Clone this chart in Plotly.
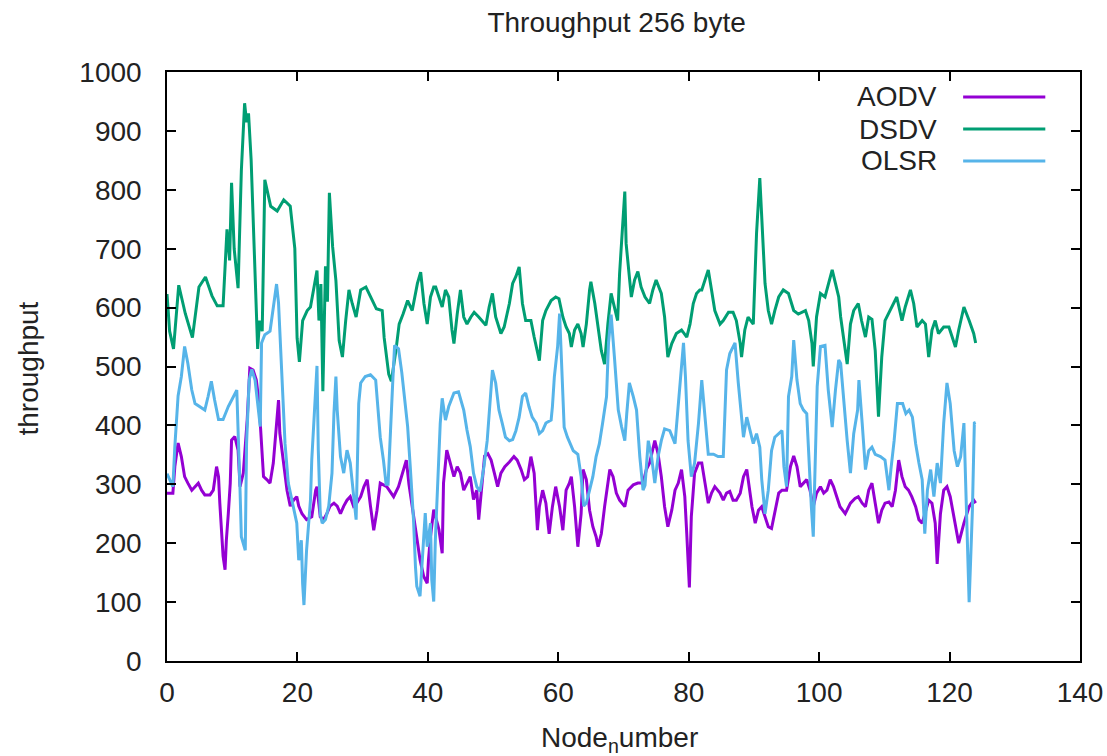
import plotly.graph_objects as go

# ---------------- data ----------------
aodv_x = [0.0, 0.9, 1.2, 1.7, 2.2, 2.7, 3.2, 3.8, 4.3, 4.8, 5.3, 5.8, 6.6, 7.1, 7.6, 7.9, 8.1, 8.4, 8.6, 8.9,
          9.1, 9.4, 9.7, 9.9, 10.4, 10.9, 11.2, 11.7, 12.3, 12.7, 13.2, 13.7, 14.0, 14.3, 14.8, 15.3, 15.8, 16.3, 16.8, 17.1,
          17.3, 17.9, 18.4, 18.9, 19.4, 19.9, 20.2, 20.7, 21.4, 22.2, 22.8, 23.0, 23.5, 24.0, 24.5, 25.0, 25.6, 26.1, 26.6, 27.1,
          27.6, 28.1, 28.6, 29.1, 29.7, 30.2, 30.7, 31.2, 31.7, 32.2, 32.7, 33.7, 34.75, 35.5, 36.3, 36.7, 37.1, 37.6, 37.8, 38.3,
          38.8, 39.35, 39.9, 40.1, 40.4, 40.9, 41.7, 42.2, 42.4, 42.9, 43.45, 44.0, 44.5, 45.0, 45.5, 46.0, 46.5, 47.0, 47.5, 47.8,
          48.2, 48.7, 49.2, 49.7, 50.2, 50.7, 51.2, 51.8, 52.5, 53.2, 53.7, 54.3, 54.8, 55.3, 55.8, 56.3, 56.8, 57.1, 57.6, 58.1,
          58.6, 59.1, 59.6, 60.2, 60.7, 61.2, 61.7, 62.0, 62.5, 63.0, 63.5, 63.8, 64.3, 64.8, 65.3, 65.8, 66.1, 66.6, 67.1, 67.6,
          67.9, 68.4, 68.9, 69.4, 70.2, 70.7, 71.5, 72.2, 73.0, 73.5, 74.0, 74.8, 75.3, 75.8, 76.3, 76.8, 77.4, 77.9, 78.4, 78.9,
          79.4, 79.7, 80.1, 80.4, 80.9, 81.5, 82.0, 82.5, 83.0, 83.5, 84.0, 84.8, 85.3, 85.8, 86.3, 86.8, 87.3, 87.9, 88.4, 88.9,
          89.4, 89.7, 90.2, 90.7, 91.2, 91.7, 92.2, 92.7, 93.2, 93.8, 94.3, 95.0, 95.6, 96.1, 96.6, 97.1, 97.6, 98.1, 98.6, 99.1,
          99.6, 100.2, 100.7, 101.2, 101.7, 102.2, 102.7, 103.2, 104.0, 104.8, 105.5, 106.0, 106.6, 107.1, 107.6, 108.1, 108.6, 109.1, 109.6, 110.1,
          110.7, 111.2, 111.7, 112.2, 112.7, 113.2, 113.7, 114.2, 114.8, 115.3, 115.8, 116.3, 116.8, 117.3, 117.8, 118.1, 118.6, 119.1, 119.6, 120.1,
          120.9, 121.4, 122.2, 123.0, 123.7, 124.0]
aodv_y = [285, 285, 330, 370, 347, 313, 302, 290, 296, 302, 290, 282, 282, 290, 330, 313, 268, 217, 178, 155,
          205, 250, 302, 375, 381, 358, 296, 319, 410, 497, 494, 477, 449, 404, 313, 308, 302, 336, 414, 443,
          387, 330, 290, 263, 273, 279, 263, 250, 240, 245, 290, 296, 245, 240, 250, 263, 268, 263, 250, 263,
          273, 279, 263, 268, 279, 296, 308, 263, 222, 256, 302, 296, 279, 296, 324, 341, 300, 262, 251, 206,
          172, 144, 132, 172, 211, 257, 223, 183, 302, 358, 336, 313, 330, 319, 290, 302, 313, 274, 290, 240,
          290, 348, 352, 341, 319, 296, 319, 330, 338, 347, 341, 325, 308, 313, 347, 319, 222, 262, 290, 268,
          216, 262, 296, 262, 222, 290, 302, 313, 262, 194, 250, 325, 308, 256, 228, 211, 194, 216, 262, 302,
          325, 313, 285, 273, 262, 290, 299, 302, 302, 325, 336, 374, 352, 313, 262, 228, 256, 290, 302, 325,
          279, 216, 125, 245, 319, 336, 336, 302, 268, 285, 296, 285, 273, 285, 288, 273, 273, 285, 313, 325,
          285, 262, 234, 256, 262, 245, 228, 225, 250, 285, 290, 290, 330, 348, 330, 296, 302, 308, 290, 262,
          285, 296, 285, 290, 308, 296, 279, 262, 250, 268, 276, 279, 268, 262, 290, 302, 268, 234, 256, 268,
          270, 262, 290, 341, 313, 296, 290, 279, 262, 240, 234, 256, 273, 268, 234, 165, 250, 290, 296, 279,
          234, 200, 234, 262, 273, 268]

dsdv_x = [0.0, 0.4, 1.0, 1.8, 2.8, 3.9, 4.9, 5.9, 6.9, 7.7, 8.6, 9.2, 9.6, 9.9, 10.3, 10.9, 11.4, 11.9, 12.2, 12.5,
          12.9, 13.4, 13.9, 14.2, 14.6, 15.0, 15.9, 16.9, 17.9, 18.9, 19.6, 19.95, 20.3, 20.8, 21.5, 22.0, 22.5, 23.0, 23.3, 23.6,
          23.9, 24.3, 24.6, 24.9, 25.4, 25.9, 26.4, 26.9, 27.4, 27.9, 28.4, 29.0, 29.7, 30.5, 31.5, 32.1, 33.0, 33.3, 34.0, 34.4,
          35.1, 35.6, 36.2, 36.9, 37.6, 38.4, 38.9, 39.4, 39.9, 40.4, 40.9, 41.2, 41.7, 42.2, 42.7, 43.2, 43.7, 44.0, 44.5, 45.0,
          45.5, 46.0, 46.6, 47.1, 47.8, 48.9, 49.4, 49.9, 50.4, 51.2, 51.7, 52.5, 53.0, 53.5, 54.0, 54.5, 55.0, 55.8, 56.3, 56.8,
          57.1, 57.6, 58.1, 58.9, 59.6, 60.1, 60.7, 61.2, 61.7, 62.0, 62.5, 63.0, 63.5, 63.8, 64.3, 64.8, 65.0, 65.6, 66.1, 66.6,
          67.1, 67.6, 68.1, 68.6, 69.1, 69.4, 69.7, 70.2, 70.4, 70.9, 71.2, 71.7, 72.2, 72.7, 73.3, 74.0, 74.5, 75.0, 75.8, 76.3,
          76.8, 77.4, 78.1, 78.9, 79.7, 80.2, 80.7, 81.2, 81.7, 82.0, 82.5, 83.0, 83.5, 84.0, 84.8, 85.3, 86.1, 86.8, 87.3, 87.9,
          88.1, 88.6, 89.1, 89.9, 90.2, 90.4, 90.9, 91.4, 91.7, 92.2, 92.7, 93.2, 93.8, 94.5, 95.3, 96.1, 96.8, 97.9, 98.4, 98.9,
          99.1, 99.6, 100.2, 100.9, 101.4, 102.0, 102.5, 103.0, 103.3, 103.8, 104.3, 104.8, 105.3, 106.0, 106.5, 107.1, 107.6, 108.1, 108.6, 109.1,
          109.6, 110.1, 110.9, 111.9, 112.7, 113.2, 114.0, 114.5, 115.0, 115.8, 116.3, 116.8, 117.3, 117.8, 118.3, 119.1, 119.9, 120.4, 120.9, 121.4,
          122.2, 123.0, 123.7, 124.0]
dsdv_y = [623, 560, 530, 638, 590, 549, 635, 652, 620, 603, 603, 733, 680, 812, 700, 633, 832, 947, 915, 930,
          851, 700, 530, 578, 560, 817, 772, 764, 783, 772, 700, 548, 508, 578, 595, 601, 630, 663, 578, 640,
          458, 670, 610, 795, 703, 646, 544, 516, 578, 630, 607, 584, 630, 635, 612, 598, 595, 549, 487, 475,
          527, 572, 589, 612, 595, 641, 660, 607, 572, 618, 635, 635, 618, 601, 630, 618, 562, 539, 589, 630,
          584, 572, 584, 592, 584, 570, 601, 624, 584, 556, 567, 607, 641, 653, 669, 607, 578, 578, 550, 527,
          510, 578, 595, 612, 618, 615, 584, 567, 556, 533, 562, 572, 556, 533, 572, 630, 644, 607, 562, 527,
          504, 572, 624, 601, 578, 658, 709, 797, 709, 647, 618, 647, 661, 635, 618, 607, 630, 647, 624, 584,
          516, 539, 556, 562, 550, 572, 607, 624, 630, 630, 647, 664, 630, 595, 572, 578, 592, 592, 578, 539,
          516, 562, 584, 572, 664, 726, 820, 715, 641, 595, 572, 595, 618, 630, 624, 595, 589, 595, 578, 539,
          500, 584, 624, 618, 641, 664, 641, 618, 584, 539, 504, 572, 595, 607, 578, 550, 584, 580, 527, 415,
          516, 578, 595, 618, 578, 601, 630, 607, 567, 578, 572, 516, 562, 578, 556, 567, 567, 550, 533, 562,
          601, 578, 556, 540]

olsr_x = [0.0, 0.4, 0.9, 1.2, 1.7, 2.2, 2.7, 3.2, 3.8, 4.3, 5.0, 5.8, 6.3, 6.8, 7.3, 7.9, 8.6, 9.4, 10.2, 10.7,
          11.2, 11.4, 12.0, 12.2, 12.6, 13.0, 13.5, 14.0, 14.3, 14.5, 15.0, 15.8, 16.3, 16.8, 17.1, 17.6, 18.1, 18.6, 19.4, 19.9,
          20.2, 20.6, 20.8, 21.0, 21.4, 21.7, 22.0, 22.2, 22.5, 22.8, 23.0, 23.2, 23.5, 23.8, 24.3, 24.8, 25.3, 25.6, 25.9, 26.1,
          26.6, 27.1, 27.6, 28.1, 28.6, 29.0, 29.4, 29.7, 30.4, 31.2, 32.0, 32.7, 33.2, 33.6, 33.9, 34.2, 34.6, 34.9, 35.5, 36.0,
          36.5, 36.9, 37.3, 37.6, 37.8, 38.1, 38.3, 38.8, 39.1, 39.6, 39.9, 40.4, 40.6, 40.9, 41.15, 41.7, 41.9, 42.2, 42.7, 43.2,
          44.0, 44.7, 45.5, 46.0, 46.5, 47.0, 47.5, 48.0, 48.6, 49.1, 49.4, 49.7, 49.9, 50.4, 50.9, 51.4, 51.9, 52.5, 53.0, 53.5,
          54.0, 54.5, 55.0, 55.5, 56.0, 56.6, 57.1, 57.6, 58.1, 58.9, 59.1, 59.4, 59.9, 60.2, 60.4, 60.9, 61.4, 61.9, 62.3, 63.0,
          63.5, 63.9, 64.3, 64.8, 65.3, 65.8, 66.3, 66.8, 67.4, 67.7, 68.1, 68.6, 68.9, 69.2, 69.7, 70.2, 70.5, 70.9, 71.5, 72.0,
          72.5, 73.0, 73.3, 73.8, 74.3, 74.8, 75.3, 75.8, 76.3, 77.1, 77.9, 78.4, 78.9, 79.2, 79.5, 79.9, 80.4, 80.9, 81.5, 82.0,
          82.5, 83.0, 83.8, 84.5, 85.3, 85.6, 85.8, 86.3, 86.8, 87.1, 87.6, 88.1, 88.4, 88.9, 89.4, 89.9, 90.4, 90.9, 91.2, 91.7,
          92.2, 92.7, 93.2, 93.8, 94.3, 94.6, 95.0, 95.3, 95.8, 96.1, 96.6, 97.1, 97.6, 98.1, 98.4, 98.8, 99.1, 99.4, 99.7, 100.2,
          100.9, 101.4, 102.0, 102.5, 103.0, 103.3, 103.8, 104.3, 104.8, 105.3, 105.9, 106.1, 106.6, 107.1, 107.6, 108.1, 108.6, 109.4, 110.1, 110.7,
          111.0, 111.5, 112.0, 112.8, 113.3, 113.8, 114.3, 114.8, 115.3, 115.8, 116.2, 116.6, 117.1, 117.6, 118.1, 118.6, 119.1, 119.6, 120.1, 120.7,
          121.2, 121.7, 122.2, 122.7, 123.0, 123.5, 123.8, 124.0]
olsr_y = [318, 308, 296, 364, 450, 483, 534, 505, 460, 437, 432, 426, 449, 475, 443, 410, 410, 432, 449, 460,
          290, 211, 188, 369, 477, 495, 477, 426, 398, 540, 554, 560, 602, 640, 608, 477, 369, 302, 263, 234,
          171, 205, 131, 95, 188, 234, 273, 342, 404, 466, 501, 358, 250, 234, 240, 263, 319, 420, 483, 426,
          347, 319, 358, 336, 279, 240, 437, 472, 483, 486, 477, 380, 340, 300, 300, 381, 470, 536, 530, 490,
          440, 398, 330, 279, 240, 160, 127, 110, 170, 251, 194, 234, 138, 101, 206, 336, 404, 446, 409, 432,
          455, 457, 426, 392, 364, 319, 296, 288, 330, 374, 420, 460, 494, 472, 426, 404, 380, 374, 376, 391,
          414, 449, 455, 432, 414, 404, 386, 391, 404, 409, 432, 483, 534, 590, 540, 397, 380, 368, 357, 351,
          313, 263, 268, 290, 313, 347, 369, 404, 449, 540, 588, 517, 472, 426, 398, 374, 420, 472, 449, 426,
          347, 290, 298, 374, 347, 302, 347, 374, 394, 391, 369, 432, 500, 540, 483, 374, 313, 336, 404, 477,
          414, 351, 351, 347, 347, 426, 494, 522, 534, 540, 472, 420, 380, 414, 391, 369, 386, 363, 308, 250,
          290, 357, 380, 386, 391, 330, 296, 449, 483, 545, 477, 437, 426, 420, 347, 263, 211, 319, 466, 534,
          536, 460, 397, 460, 511, 505, 432, 374, 319, 386, 426, 477, 404, 325, 357, 363, 351, 347, 341, 290,
          325, 374, 437, 437, 420, 426, 414, 369, 336, 308, 216, 290, 325, 279, 336, 302, 404, 472, 437, 357,
          330, 347, 404, 234, 100, 256, 404, 405]

series_names = ["AODV", "DSDV", "OLSR"]
series_colors = ["#9400d3", "#009e73", "#56b4e9"]
x_ticks = [0, 20, 40, 60, 80, 100, 120, 140]
y_ticks = [0, 100, 200, 300, 400, 500, 600, 700, 800, 900, 1000]

FONT = "Liberation Sans, Arial, sans-serif"
FS = 28

fig = go.Figure()
for name, xs, ys, col in zip(series_names, [aodv_x, dsdv_x, olsr_x], [aodv_y, dsdv_y, olsr_y], series_colors):
    fig.add_trace(go.Scatter(x=xs, y=ys, mode="lines", name=name,
                             line=dict(color=col, width=3), showlegend=False))

# gnuplot-style legend: label on the left, line sample on the right
leg_y = [0.9576, 0.9032, 0.8489]
for name, col, yy in zip(series_names, series_colors, leg_y):
    fig.add_annotation(x=0.8456, y=yy, xref="paper", yref="paper", text=name, showarrow=False,
                       xanchor="right", yanchor="middle", font=dict(size=FS, color="#222", family=FONT))
    fig.add_shape(type="line", xref="paper", yref="paper", x0=0.872, x1=0.962, y0=yy, y1=yy,
                  line=dict(color=col, width=3))

# axis titles
fig.add_annotation(x=0.496, y=-0.134, xref="paper", yref="paper", text="Node<sub>n</sub>umber",
                   showarrow=False, xanchor="center", yanchor="middle",
                   font=dict(size=FS, color="#222", family=FONT))
fig.add_annotation(x=-0.152, y=0.497, xref="paper", yref="paper", text="throughput", textangle=-90,
                   showarrow=False, xanchor="center", yanchor="middle",
                   font=dict(size=FS, color="#222", family=FONT))

axis_common = dict(showline=True, linecolor="black", linewidth=1.5, mirror="allticks",
                   ticks="inside", ticklen=9, tickcolor="black", tickwidth=1.5,
                   showgrid=False, zeroline=False, automargin=False, ticklabeloverflow="allow",
                   tickfont=dict(size=FS, color="#222", family=FONT))

fig.update_layout(
    width=1107, height=756,
    margin=dict(l=167, r=27, t=72, b=95),
    paper_bgcolor="white", plot_bgcolor="white",
    title=dict(text="Throughput 256 byte", x=0.557, xref="container", xanchor="center",
               y=0.971, yref="container", yanchor="middle",
               font=dict(size=FS, color="#222", family=FONT)),
    xaxis=dict(range=[0, 140], tickvals=x_ticks, ticklabelstandoff=6, **axis_common),
    yaxis=dict(range=[0, 1000], tickvals=y_ticks, ticklabelstandoff=18, **axis_common),
)

fig.write_html("out.html")
